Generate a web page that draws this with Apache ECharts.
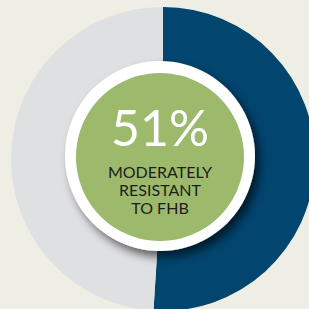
<!DOCTYPE html>
<html>
<head>
<meta charset="utf-8">
<script src="https://cdn.jsdelivr.net/npm/echarts@6/dist/echarts.min.js"></script>
<style>
  html, body { margin: 0; padding: 0; background: #efeee4; }
  #chart { width: 309px; height: 309px; }
</style>
</head>
<body>
<div id="chart"></div>
<script>
const categories = ['Moderately resistant to FHB', 'Other'];
const shares = [51, 49];
const sliceColors = ['#02456f', '#dfe0e2'];
const headline = '51%';
const captionLines = ['MODERATELY', 'RESISTANT', 'TO FHB'];

const chart = echarts.init(document.getElementById('chart'), null, { renderer: 'svg' });

const option = {
    backgroundColor: '#efeee4',
    animation: false,
    series: [
        {
            type: 'pie',
            center: [163, 159],
            radius: [0, 152],
            startAngle: 90,
            clockwise: true,
            silent: true,
            label: { show: false },
            labelLine: { show: false },
            data: categories.map((name, i) => ({
                name: name,
                value: shares[i],
                itemStyle: { color: sliceColors[i] }
            }))
        },
        {
            // white ring with drop shadow
            type: 'pie',
            center: [160, 156],
            radius: [0, 95],
            silent: true,
            label: { show: false },
            data: [{
                value: 1,
                itemStyle: {
                    color: '#ffffff',
                    shadowColor: 'rgba(0,0,0,0.6)',
                    shadowBlur: 10,
                    shadowOffsetX: 5,
                    shadowOffsetY: 6
                }
            }]
        },
        {
            type: 'pie',
            center: [160, 157],
            radius: [0, 84],
            silent: true,
            label: { show: false },
            data: [{ value: 1, itemStyle: { color: '#9cb96c' } }]
        }
    ],
    graphic: {
        elements: [
            {
                type: 'text',
                z: 100,
                x: 160,
                y: 127,
                style: {
                    text: headline,
                    fill: '#ffffff',
                    fontFamily: 'Lato',
                    fontWeight: 'normal',
                    fontSize: 50,
                    align: 'center',
                    verticalAlign: 'middle'
                }
            },
            ...captionLines.map((line, i) => ({
                type: 'text',
                z: 100,
                x: 160,
                y: 171 + i * 18,
                style: {
                    text: line,
                    fill: '#1d1d1b',
                    fontFamily: 'Lato',
                    fontSize: 16,
                    align: 'center',
                    verticalAlign: 'middle'
                }
            }))
        ]
    }
};

chart.setOption(option);
</script>
</body>
</html>
